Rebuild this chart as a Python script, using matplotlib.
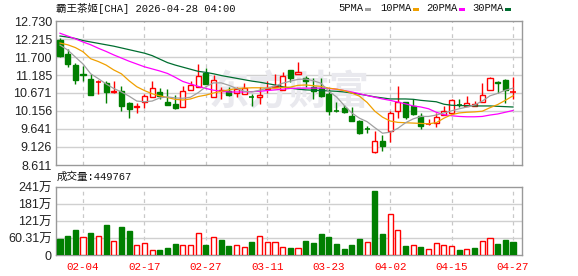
import matplotlib
matplotlib.use("Agg")
import matplotlib.pyplot as plt
from matplotlib.patches import Rectangle
import numpy as np

dates = ["01-30", "02-02", "02-03", "02-04", "02-05", "02-06", "02-09", "02-10", "02-11", "02-12",
         "02-13", "02-17", "02-18", "02-19", "02-20", "02-23", "02-24", "02-25", "02-26", "02-27",
         "03-02", "03-03", "03-04", "03-05", "03-06", "03-09", "03-10", "03-11", "03-12", "03-13",
         "03-16", "03-17", "03-18", "03-19", "03-20", "03-23", "03-24", "03-25", "03-26", "03-27",
         "03-30", "03-31", "04-01", "04-02", "04-06", "04-07", "04-08", "04-09", "04-10", "04-13",
         "04-14", "04-15", "04-16", "04-17", "04-20", "04-21", "04-22", "04-23", "04-24", "04-27"]

opens = [12.19, 11.79, 11.47, 11.21, 11.07, 10.98, 10.96, 10.70, 10.73, 10.39,
         10.27, 10.41, 10.56, 10.70, 10.41, 10.36, 10.27, 10.76, 10.84, 11.24,
         10.56, 10.73, 10.73, 10.67, 10.64, 10.56, 10.56, 10.79, 10.84, 10.76,
         11.33, 11.21, 11.10, 10.84, 10.81, 10.64, 10.17, 10.24, 10.01, 9.87,
         9.65, 8.98, 9.30, 9.58, 10.16, 10.41, 10.30, 10.01, 9.77, 9.81,
         10.04, 10.10, 10.33, 10.30, 10.30, 10.41, 10.76, 10.99, 11.04, 10.69]
highs = [12.24, 11.93, 11.53, 11.44, 11.21, 11.04, 11.01, 11.01, 10.87, 10.40,
         10.39, 10.64, 11.01, 10.81, 10.79, 10.61, 10.87, 11.01, 11.50, 11.39,
         11.19, 10.84, 10.84, 10.84, 10.96, 10.64, 10.84, 11.01, 11.21, 11.27,
         11.33, 11.56, 11.16, 11.10, 11.10, 10.79, 10.41, 10.33, 10.27, 9.90,
         9.73, 9.59, 9.47, 10.16, 10.87, 10.41, 10.50, 10.10, 9.93, 10.10,
         10.30, 10.50, 10.50, 10.59, 10.44, 10.96, 11.13, 11.01, 11.07, 11.13]
lows = [11.70, 11.41, 10.93, 11.01, 10.61, 10.64, 10.39, 10.67, 10.16, 9.96,
        10.10, 10.24, 10.56, 10.50, 10.32, 10.21, 10.27, 10.76, 10.84, 10.93,
        10.56, 10.50, 10.59, 10.56, 10.64, 10.30, 10.36, 10.67, 10.84, 10.76,
        10.99, 11.21, 10.84, 10.50, 10.56, 10.04, 10.13, 10.10, 9.87, 9.50,
        9.53, 8.95, 9.01, 9.27, 9.96, 9.93, 10.04, 9.64, 9.76, 9.70,
        10.04, 10.10, 10.27, 10.30, 10.30, 10.41, 10.76, 10.67, 10.39, 10.50]
closes = [11.73, 11.50, 11.04, 11.19, 10.61, 11.00, 10.70, 10.73, 10.30, 10.21,
          10.30, 10.59, 10.81, 10.59, 10.33, 10.24, 10.73, 10.90, 11.16, 10.93,
          11.04, 10.76, 10.61, 10.79, 10.81, 10.55, 10.61, 10.81, 10.87, 11.16,
          11.10, 11.27, 11.01, 10.73, 10.59, 10.16, 10.15, 10.13, 9.87, 9.53,
          9.64, 9.30, 9.16, 10.10, 10.41, 9.99, 10.07, 9.73, 9.79, 9.99,
          10.16, 10.47, 10.32, 10.38, 10.36, 10.61, 11.10, 10.96, 10.76, 10.70]

volumes = [56, 67, 88, 63, 78, 67, 106, 49, 99, 85,
           35, 42, 18, 18, 25, 39, 35, 35, 78, 35,
           63, 53, 32, 35, 28, 46, 67, 46, 46, 28,
           25, 25, 49, 42, 74, 63, 39, 21, 35, 56,
           46, 227, 74, 144, 88, 32, 35, 28, 21, 42,
           35, 32, 18, 21, 25, 49, 60, 39, 53, 45]

ma5 = [12.04, 11.90, 11.70, 11.50, 11.22, 11.08, 10.93, 10.80, 10.70, 10.58,
       10.44, 10.42, 10.44, 10.53, 10.56, 10.53, 10.52, 10.55, 10.68, 10.85,
       10.96, 10.96, 10.89, 10.80, 10.72, 10.70, 10.75, 10.81, 10.87, 10.95,
       11.01, 11.06, 11.07, 11.02, 10.95, 10.72, 10.56, 10.32, 10.10, 9.95,
       9.85, 9.68, 9.52, 9.55, 9.66, 9.82, 9.93, 10.00, 10.00, 10.04,
       10.10, 10.16, 10.22, 10.27, 10.33, 10.44, 10.59, 10.66, 10.75, 10.81]
ma10 = [12.10, 12.05, 11.97, 11.85, 11.65, 11.57, 11.47, 11.33, 11.22, 11.02,
        10.85, 10.74, 10.65, 10.59, 10.54, 10.49, 10.47, 10.50, 10.57, 10.61,
        10.67, 10.72, 10.76, 10.80, 10.81, 10.82, 10.82, 10.81, 10.81, 10.83,
        10.84, 10.89, 10.90, 10.88, 10.86, 10.81, 10.78, 10.74, 10.67, 10.58,
        10.40, 10.15, 9.98, 9.87, 9.83, 9.82, 9.81, 9.80, 9.79, 9.82,
        9.95, 10.05, 10.10, 10.12, 10.13, 10.15, 10.25, 10.34, 10.46, 10.59]
ma20 = [12.38, 12.30, 12.22, 12.13, 12.05, 11.95, 11.86, 11.76, 11.67, 11.58,
        11.50, 11.42, 11.36, 11.30, 11.23, 11.12, 11.00, 10.93, 10.86, 10.80,
        10.75, 10.72, 10.70, 10.70, 10.70, 10.71, 10.72, 10.74, 10.76, 10.78,
        10.80, 10.81, 10.81, 10.81, 10.81, 10.80, 10.78, 10.74, 10.70, 10.65,
        10.60, 10.55, 10.50, 10.46, 10.41, 10.36, 10.30, 10.27, 10.22, 10.12,
        10.05, 10.02, 10.00, 9.99, 9.99, 10.00, 10.04, 10.07, 10.12, 10.17]
ma30 = [12.30, 12.27, 12.23, 12.17, 12.13, 12.09, 12.05, 12.01, 11.96, 11.91,
        11.86, 11.81, 11.74, 11.64, 11.54, 11.47, 11.41, 11.35, 11.29, 11.26,
        11.22, 11.17, 11.13, 11.09, 11.05, 11.01, 10.98, 10.94, 10.90, 10.85,
        10.81, 10.78, 10.76, 10.75, 10.74, 10.73, 10.72, 10.70, 10.67, 10.64,
        10.60, 10.56, 10.53, 10.50, 10.50, 10.50, 10.49, 10.46, 10.44, 10.42,
        10.35, 10.32, 10.31, 10.31, 10.30, 10.30, 10.30, 10.29, 10.28, 10.27]

price_ticks = [8.611, 9.126, 9.641, 10.156, 10.671, 11.185, 11.700, 12.215, 12.730]
price_labels = ["8.611", "9.126", "9.641", "10.156", "10.671", "11.185", "11.700", "12.215", "12.730"]
vol_ticks = [0, 60.31, 120.62, 180.93, 241.24]
vol_labels = ["0", "60.31万", "121万", "181万", "241万"]
date_ticks = ["02-04", "02-17", "02-27", "03-11", "03-23", "04-02", "04-15", "04-27"]
ma_names = ["5PMA", "10PMA", "20PMA", "30PMA"]
ma_colors = ["#a0a0a0", "#f0a000", "#ff00ff", "#006e30"]

RED = "#ff0000"
GREEN = "#007f00"
W, H = 578, 276
fig = plt.figure(figsize=(W / 100, H / 100), dpi=100)
fig.patch.set_facecolor("white")

def fx(px):
    return px / W

def fy(py):
    return 1 - py / H

ax = fig.add_axes([fx(56), fy(165), fx(522) - fx(56), fy(21) - fy(165)])
axv = fig.add_axes([fx(56), fy(255), fx(522) - fx(56), fy(187) - fy(255)])

n = len(dates)
x = np.arange(n)
xlim = (-0.52, n - 1 + 1.17)
tick_idx = [dates.index(d) for d in date_ticks]

num_font = ["Liberation Sans", "Noto Sans CJK SC"]
mono_font = ["Liberation Mono", "Noto Sans CJK SC"]

for a in (ax, axv):
    a.set_xlim(*xlim)
    for s in a.spines.values():
        s.set_color("#999999")
        s.set_linewidth(1.0)
    a.tick_params(length=0, pad=3)
    for ti in tick_idx:
        a.axvline(ti, color="#c8c8c8", lw=0.9, ls=(0, (3, 3)), zorder=0)

# main price panel
ax.set_ylim(price_ticks[0], price_ticks[-1])
ax.set_yticks(price_ticks)
ax.set_yticklabels(price_labels, fontfamily=num_font, fontsize=9, color="#222222")
ax.set_xticks([])
for t in price_ticks[1:-1]:
    ax.axhline(t, color="#d0d0d0", lw=1.0, zorder=0)

ax.text(0.5, 0.5, "东方财富", transform=ax.transAxes, fontsize=29, fontweight="bold",
        family=["Noto Sans CJK SC"], color="#e9e9ee", ha="center", va="center", zorder=0.5)

bw = 0.66
for i in range(n):
    o, h, l, c = opens[i], highs[i], lows[i], closes[i]
    up = c >= o
    col = RED if up else GREEN
    ax.vlines(x[i], l, h, color=col, lw=1.0, zorder=2)
    lo, hi = min(o, c), max(o, c)
    if hi - lo < 0.02:
        ax.hlines((o + c) / 2, x[i] - bw / 2, x[i] + bw / 2, color=col, lw=1.2, zorder=3)
    else:
        ax.add_patch(Rectangle((x[i] - bw / 2, lo), bw, hi - lo,
                               facecolor="white" if up else GREEN, edgecolor=col,
                               lw=1.0, zorder=3))

for vals, col in zip([ma30, ma20, ma10, ma5], ma_colors[::-1]):
    ax.plot(x, vals, color=col, lw=0.9, zorder=4)

# volume panel
axv.set_ylim(0, vol_ticks[-1])
axv.set_yticks(vol_ticks)
axv.set_yticklabels(vol_labels, fontfamily=num_font, fontsize=9, color="#222222")
for t in vol_ticks[1:-1]:
    axv.axhline(t, color="#d0d0d0", lw=1.0, zorder=0)
axv.set_xticks(tick_idx)
axv.set_xticklabels(date_ticks, fontfamily=mono_font, fontsize=7.8, color=RED)
axv.tick_params(axis="x", pad=5)

for i in range(n):
    ref = closes[i - 1] if i > 0 else opens[i]
    up = closes[i] >= ref
    col = RED if up else GREEN
    axv.add_patch(Rectangle((x[i] - bw / 2, 0), bw, volumes[i],
                            facecolor="white" if up else GREEN, edgecolor=col,
                            lw=1.0, zorder=3))

# header texts
fig.text(fx(56), fy(8), "霸王茶姬[CHA] 2026-04-28 04:00", family=mono_font,
         fontsize=7.6, color="#111111", va="center", ha="left")
fig.text(fx(57), fy(177), "成交量:449767", family=mono_font,
         fontsize=7.6, color="#111111", va="center", ha="left")

leg_text_x = [338, 380, 426, 472]
leg_mark_x = [365, 413, 459, 505]
for name, col, tx, mx in zip(ma_names, ma_colors, leg_text_x, leg_mark_x):
    fig.text(fx(tx), fy(8), name, family=mono_font, fontsize=7.6,
             color="#111111", va="center", ha="left")
    fig.patches.append(Rectangle((fx(mx), fy(11)), 6 / W, 3 / H, facecolor=col,
                                 edgecolor="none", transform=fig.transFigure, figure=fig))

fig.savefig("out.png", dpi=100)
